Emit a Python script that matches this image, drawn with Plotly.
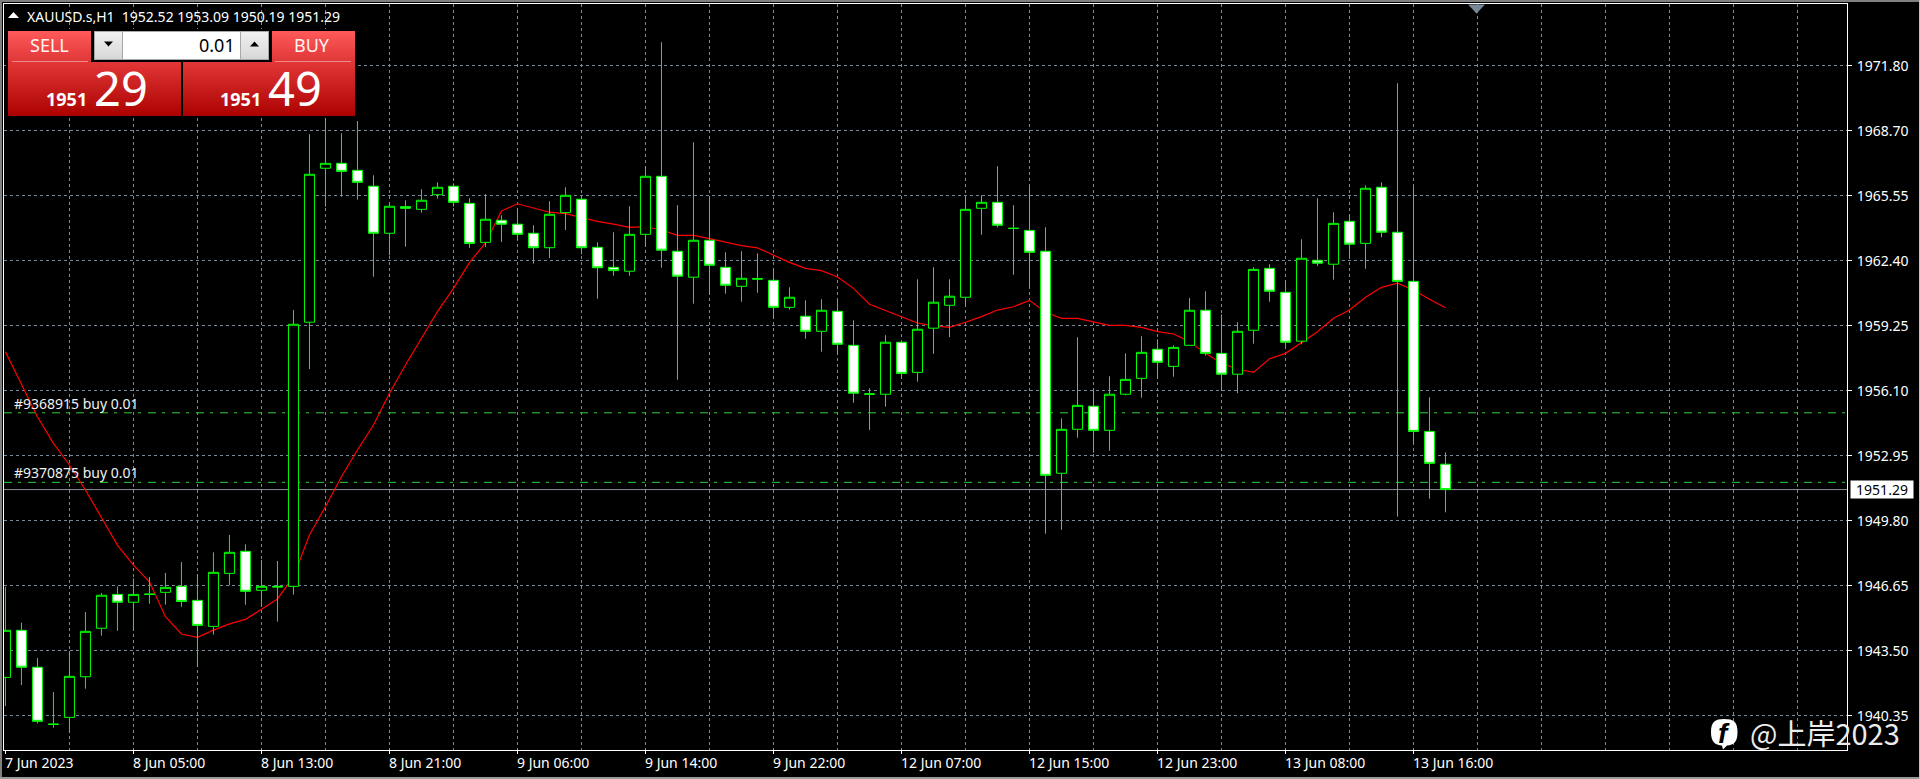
import plotly.graph_objects as go

W, H = 1920, 779
ML, MR, MT, MB = 4, 73, 4, 29

bar_index = list(range(91))
opens = [1942.19,1944.47,1942.68,1939.93,1940.25,1942.22,1944.57,1946.21,1945.83,1946.23,
         1946.31,1946.60,1945.92,1944.66,1947.23,1948.30,1946.41,1946.60,1946.60,1959.40,
         1966.86,1967.10,1966.76,1965.99,1963.71,1965.00,1964.87,1965.58,1965.99,1965.16,
         1963.27,1964.34,1964.15,1963.71,1963.01,1964.71,1965.36,1963.03,1962.06,1961.87,
         1963.66,1966.47,1962.84,1961.58,1963.37,1962.06,1961.14,1961.52,1961.43,1960.12,
         1959.69,1958.96,1959.93,1958.28,1955.93,1955.91,1958.43,1956.97,1959.11,1960.22,
         1960.61,1964.92,1965.21,1963.96,1963.85,1962.84,1952.08,1954.21,1955.33,1954.16,
         1955.91,1956.68,1958.09,1957.26,1958.28,1959.98,1957.89,1956.88,1959.01,1962.01,
         1960.85,1958.48,1962.40,1962.21,1964.29,1963.22,1965.94,1963.76,1961.38,1954.11,1952.52]
highs = [1946.58,1944.84,1943.13,1941.48,1943.47,1945.36,1946.28,1946.60,1946.99,1947.05,
         1947.25,1947.78,1947.18,1948.25,1949.09,1948.64,1947.88,1947.83,1959.99,1968.51,
         1969.59,1968.56,1969.15,1966.52,1965.21,1965.31,1965.84,1966.18,1966.13,1965.41,
         1965.61,1964.58,1964.92,1964.10,1965.26,1965.94,1965.55,1963.27,1963.76,1965.02,
         1966.96,1972.97,1965.07,1968.12,1965.50,1962.79,1962.84,1962.74,1962.01,1961.09,
         1960.46,1960.51,1960.51,1959.49,1956.20,1958.77,1958.43,1961.48,1962.06,1961.48,
         1965.48,1965.55,1966.96,1965.07,1966.03,1964.00,1954.74,1958.67,1956.20,1956.78,
         1957.89,1958.72,1958.57,1958.28,1960.57,1960.90,1959.78,1959.40,1962.06,1962.21,
         1961.43,1963.42,1965.41,1964.73,1964.63,1966.03,1966.18,1970.98,1966.03,1955.76,1953.09]
lows = [1940.80,1941.82,1939.96,1939.75,1939.51,1941.64,1944.21,1944.45,1944.45,1945.76,
        1945.71,1945.61,1942.71,1944.26,1946.65,1945.71,1945.61,1944.89,1946.20,1957.13,
        1965.00,1965.48,1965.34,1961.61,1962.64,1963.06,1964.71,1965.39,1965.00,1963.00,
        1963.05,1963.29,1963.38,1962.24,1962.51,1963.87,1962.69,1960.54,1961.65,1961.65,
        1963.05,1962.04,1956.61,1960.30,1960.73,1960.78,1960.39,1960.83,1959.57,1960.01,
        1958.60,1957.97,1957.85,1955.50,1954.18,1955.31,1956.65,1956.52,1957.87,1958.68,
        1960.17,1963.64,1964.00,1961.70,1961.04,1949.15,1949.34,1953.80,1953.08,1953.17,
        1955.86,1955.74,1956.66,1956.76,1958.28,1957.78,1956.10,1955.96,1958.36,1960.39,
        1958.14,1958.33,1962.12,1961.46,1962.50,1961.99,1963.52,1949.98,1953.51,1950.85,1950.19]
closes = [1944.47,1942.68,1940.06,1939.91,1942.24,1944.42,1946.17,1945.83,1946.21,1946.21,
          1946.55,1945.87,1944.71,1947.28,1948.25,1946.36,1946.60,1946.57,1959.30,1966.57,
          1967.10,1966.71,1966.18,1963.71,1965.02,1964.92,1965.31,1965.94,1965.21,1963.22,
          1964.39,1964.15,1963.66,1963.01,1964.63,1965.55,1963.01,1962.04,1961.90,1963.66,
          1966.47,1962.89,1961.63,1963.37,1962.16,1961.19,1961.53,1961.49,1960.12,1960.61,
          1958.96,1959.98,1958.33,1955.96,1955.91,1958.43,1956.92,1959.06,1960.37,1960.66,
          1964.87,1965.21,1964.10,1963.94,1962.79,1951.98,1954.21,1955.37,1954.16,1955.91,
          1956.63,1957.94,1957.46,1958.18,1959.98,1957.89,1956.88,1958.96,1961.96,1960.90,
          1958.43,1962.50,1962.26,1964.19,1963.18,1965.89,1963.76,1961.38,1954.11,1952.56,1951.29]
moving_avg = [1957.97,1956.36,1954.82,1953.53,1952.48,1951.27,1949.97,1948.60,1947.63,1946.82,
              1945.13,1944.29,1944.13,1944.48,1944.78,1945.00,1945.49,1945.99,1947.07,1949.09,
              1950.46,1951.91,1953.21,1954.42,1955.96,1957.33,1958.62,1959.91,1961.04,1962.29,
              1963.24,1964.79,1965.14,1964.92,1964.73,1964.66,1964.48,1964.29,1964.15,1964.00,
              1964.03,1963.87,1963.61,1963.61,1963.45,1963.27,1963.11,1963.00,1962.66,1962.30,
              1962.01,1961.90,1961.59,1961.04,1960.27,1959.96,1959.65,1959.36,1959.22,1959.15,
              1959.40,1959.67,1959.99,1960.15,1960.46,1959.88,1959.59,1959.59,1959.42,1959.25,
              1959.25,1959.15,1958.94,1958.83,1958.46,1957.89,1957.41,1957.12,1956.97,1957.63,
              1957.89,1958.41,1958.94,1959.59,1959.99,1960.61,1961.09,1961.29,1960.96,1960.51,1960.10]

price_ticks = [1940.35,1943.50,1946.65,1949.80,1952.95,1956.10,1959.25,1962.40,1965.55,1968.70,1971.85]
price_labels = ["1940.35","1943.50","1946.65","1949.80","1952.95","1956.10","1959.25","1962.40","1965.55","1968.70","1971.80"]
time_ticks = [0,8,16,24,32,40,48,56,64,72,80,88]
time_labels = ["7 Jun 2023","8 Jun 05:00","8 Jun 13:00","8 Jun 21:00","9 Jun 06:00","9 Jun 14:00",
               "9 Jun 22:00","12 Jun 07:00","12 Jun 15:00","12 Jun 23:00","13 Jun 08:00","13 Jun 16:00"]
grid_bars = list(range(4, 116, 4))
order_prices = [1955.01, 1951.64]
order_labels = ["#9368915 buy 0.01", "#9370875 buy 0.01"]
last_price = closes[-1]
symbol_line = "XAUUSD.s,H1  1952.52 1953.09 1950.19 1951.29"

XR = [-0.09, 115.09]
YR = [1938.67, 1974.82]
FONT = "Noto Sans"
LIME = "#00ff00"
ORDER = "#32cd32"
GRID = "#778899"
TS = 14

def xp(px):
    return (px - ML) / (W - ML - MR)
def yp(py):
    return 1 - (py - MT) / (H - MT - MB)
def pt(px, py):
    return "%f,%f" % (xp(px), yp(py))

shapes, annotations = [], []

def rect(x0, y0, x1, y1, fill, line=None, layer="above"):
    shapes.append(dict(type="rect", xref="paper", yref="paper", x0=xp(x0), x1=xp(x1), y0=yp(y0), y1=yp(y1),
                       fillcolor=fill, line=dict(color=line, width=1) if line else dict(width=0), layer=layer))

def label(px, py, text, size=TS, color="white", anchor="center", family=FONT, **kw):
    annotations.append(dict(xref="paper", yref="paper", x=xp(px), y=yp(py), text=text, showarrow=False,
                            xanchor=anchor, yanchor="middle", font=dict(family=family, size=size, color=color),
                            borderpad=0, **kw))

def lerp(c0, c1, t):
    return "rgb(%d,%d,%d)" % tuple(round(a + (b - a) * t) for a, b in zip(c0, c1))

def gradient(x0, y0, x1, y1, c0, c1):
    y = y0
    while y < y1:
        nxt = min(y + 2, y1)
        rect(x0, y, x1, nxt, lerp(c0, c1, (y - y0) / max(1, y1 - y0)))
        y = nxt

def triangle(cx, cy, w, h, color, up=True):
    tip = cy - h / 2 if up else cy + h / 2
    base = cy + h / 2 if up else cy - h / 2
    path = "M%s L%s L%s Z" % (pt(cx - w / 2, base), pt(cx + w / 2, base), pt(cx, tip))
    shapes.append(dict(type="path", xref="paper", yref="paper", path=path, fillcolor=color, line=dict(width=0), layer="above"))

# window edges
rect(0, 0, W, 2, "#808080")
rect(0, 0, 2, H, "#808080")
rect(0, 777, W, H, "#9a9a9a")
rect(1919, 0, W, H, "#c0c0c0")

# chart-shift marker
triangle(1476.5, 9, 17, 9, GRID, up=False)

# trade panel
rect(6, 29, 358, 118, "#000000")
gradient(8, 31, 91, 62, (255, 88, 88), (222, 54, 54))
gradient(272, 31, 355, 62, (255, 88, 88), (222, 54, 54))
gradient(8, 62, 181, 116, (226, 54, 54), (170, 0, 0))
gradient(183, 62, 355, 116, (226, 54, 54), (170, 0, 0))
rect(12, 61, 88, 62, "#f08a8a")
rect(275, 61, 351, 62, "#f08a8a")
rect(94, 31, 269, 60, "#a8a8a8")
gradient(95, 32, 122, 59, (240, 240, 240), (214, 214, 214))
gradient(241, 32, 268, 59, (240, 240, 240), (214, 214, 214))
rect(123, 32, 240, 59, "#ffffff")
triangle(108.5, 44, 9, 5, "#000000", up=False)
triangle(254.5, 44, 9, 5, "#000000", up=True)
triangle(13.5, 15, 11, 6, "#ffffff", up=True)
label(49.5, 45.5, "SELL", size=18, color="#fff4f4")
label(312, 45.5, "BUY", size=18, color="#fff4f4")
label(236, 45, "0.01", size=18, color="#000000", anchor="right")
label(66, 99, "<b>1951</b>", size=18)
label(121, 88, "29", size=47)
label(240, 99, "<b>1951</b>", size=18)
label(295, 88, "49", size=47)
label(26, 16, symbol_line, size=TS, anchor="left")

# order labels
for text, price in zip(order_labels, order_prices):
    annotations.append(dict(xref="paper", yref="y", x=xp(13), y=price, yshift=-1, text=text, showarrow=False,
                            xanchor="left", yanchor="bottom", font=dict(family=FONT, size=TS, color="#f0f0f0"), borderpad=0))

# time axis labels start at their tick
for bar, text in zip(time_ticks, time_labels):
    annotations.append(dict(xref="x", yref="paper", x=bar, y=yp(763), text=text, showarrow=False,
                            xanchor="left", yanchor="middle", xshift=-1.5,
                            font=dict(family=FONT, size=TS, color="white"), borderpad=0))

# last-price box on the price axis
annotations.append(dict(xref="paper", yref="y", x=xp(1849.5), y=last_price, text=f"{last_price:.2f}", showarrow=False,
                        xanchor="left", yanchor="middle", width=62, height=17, align="center", bgcolor="#ffffff",
                        font=dict(family=FONT, size=TS, color="#000000"), borderpad=0))

# watermark
shapes.append(dict(type="path", xref="paper", yref="paper", layer="above", fillcolor="#ffffff", line=dict(width=0),
    path="M%s C%s %s %s C%s %s %s C%s %s %s L%s L%s C%s %s %s Z" % (
        pt(1711, 732), pt(1711, 722), pt(1715, 719), pt(1724, 719),
        pt(1734, 719), pt(1737.5, 722), pt(1737.5, 732),
        pt(1737.5, 742), pt(1734, 745), pt(1727, 745.5), pt(1723, 749.5), pt(1722, 745.5),
        pt(1715, 745), pt(1711, 742), pt(1711, 732))))
label(1724, 733, "<b><i>f</i></b>", size=28, color="#000000", family="Liberation Sans")
label(1749, 731.5, "@上岸2023", size=29, color="#ececec", anchor="left", family="Noto Sans CJK SC")

fig = go.Figure()
for price in order_prices:
    fig.add_trace(go.Scatter(x=XR, y=[price, price], mode="lines", hoverinfo="skip",
                             line=dict(color=ORDER, width=1, dash="8px,6px,3px,7px")))
fig.add_trace(go.Scatter(x=XR, y=[last_price, last_price], mode="lines", hoverinfo="skip",
                         line=dict(color="#8a9098", width=1)))
fig.add_trace(go.Scatter(x=bar_index, y=moving_avg, mode="lines", line=dict(color="#ff0000", width=1.2)))
fig.add_trace(go.Candlestick(x=bar_index, open=opens, high=highs, low=lows, close=closes,
                             xaxis="x2", yaxis="y2", whiskerwidth=0,
                             increasing=dict(line=dict(color=LIME, width=1), fillcolor="#000000"),
                             decreasing=dict(line=dict(color=LIME, width=1), fillcolor="#ffffff")))

fig.update_layout(
    width=W, height=H, autosize=False, showlegend=False,
    paper_bgcolor="#000000", plot_bgcolor="#000000",
    margin=dict(l=ML, r=MR, t=MT, b=MB, pad=0),
    boxgap=0.375, boxgroupgap=0,
    font=dict(family=FONT, size=TS, color="white"),
    shapes=shapes, annotations=annotations,
    xaxis=dict(range=XR, tickmode="array", tickvals=grid_bars, showticklabels=False, ticks="",
               showgrid=True, gridcolor=GRID, griddash="3px,3px", gridwidth=1, zeroline=False,
               showline=True, linecolor="white", linewidth=1, mirror=True),
    yaxis=dict(range=YR, side="right", tickmode="array", tickvals=price_ticks, ticktext=price_labels,
               ticks="outside", ticklen=4, tickcolor="white", tickwidth=1, ticklabelstandoff=2, ticklabelshift=1,
               tickfont=dict(family=FONT, size=TS, color="white"),
               showgrid=True, gridcolor=GRID, griddash="3px,3px", gridwidth=1, zeroline=False,
               showline=True, linecolor="white", linewidth=1, mirror=True),
    xaxis2=dict(range=XR, overlaying="x", anchor="y2", side="bottom", tickmode="array", tickvals=time_ticks,
                showticklabels=False, ticks="outside", ticklen=3, tickcolor="white", tickwidth=1,
                showgrid=False, zeroline=False, rangeslider=dict(visible=False)),
    yaxis2=dict(range=YR, overlaying="y", anchor="x2", side="right", showticklabels=False, ticks="",
                showgrid=False, zeroline=False),
)

fig.write_html("out.html", config={"displayModeBar": False},
               post_script="document.body.style.margin='0';document.body.style.background='#000';document.body.style.overflow='hidden';")
